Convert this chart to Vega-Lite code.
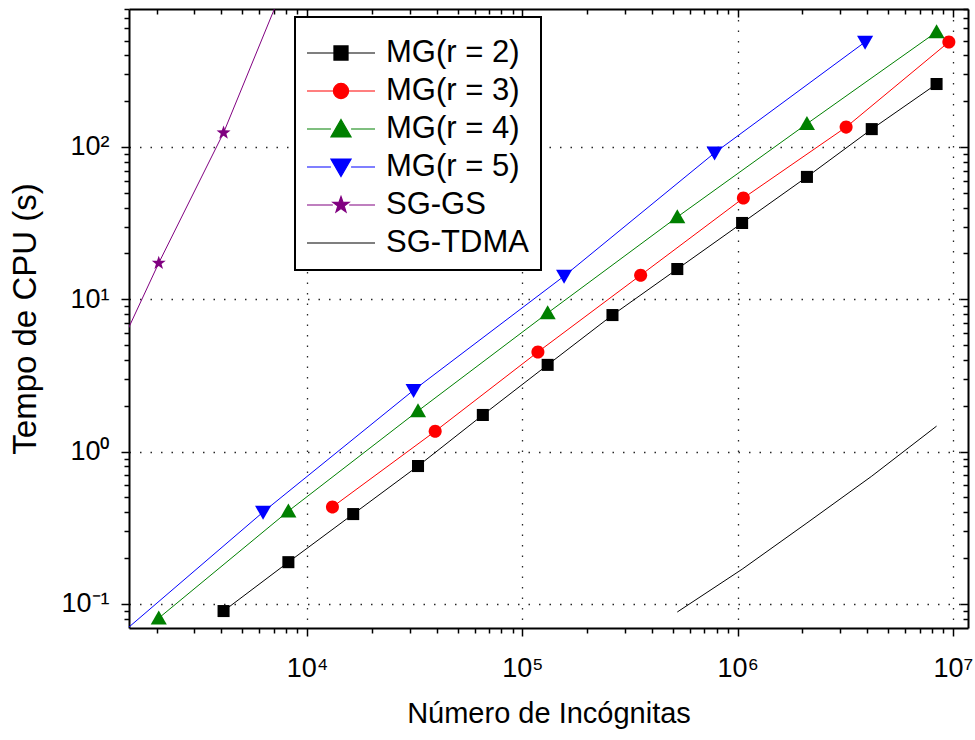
{
  "$schema": "https://vega.github.io/schema/vega-lite/v6.json",
  "width": 839,
  "height": 619,
  "autosize": {"type": "none"},
  "padding": {"left": 129, "top": 9, "right": 7, "bottom": 112},
  "background": "white",
  "config": {
    "view": {"stroke": null},
    "legend": {"strokeWidth": 2},
    "axis": {
      "labelFont": "Liberation Sans",
      "titleFont": "Liberation Sans",
      "labelColor": "black",
      "titleColor": "black",
      "titleFontWeight": "normal",
      "domainColor": "black",
      "domainWidth": 2,
      "tickColor": "black",
      "tickWidth": 1.5,
      "labelFontSize": 27,
      "titleFontSize": 29,
      "labelOverlap": false,
      "labelFlush": false,
      "labelBound": false
    }
  },
  "datasets": {
    "d": [
      {"s": "MG(r = 2)", "x": 4096, "y": 0.0898},
      {"s": "MG(r = 2)", "x": 8192, "y": 0.188},
      {"s": "MG(r = 2)", "x": 16384, "y": 0.389},
      {"s": "MG(r = 2)", "x": 32768, "y": 0.804},
      {"s": "MG(r = 2)", "x": 65536, "y": 1.74},
      {"s": "MG(r = 2)", "x": 131072, "y": 3.71},
      {"s": "MG(r = 2)", "x": 262144, "y": 7.88},
      {"s": "MG(r = 2)", "x": 524288, "y": 15.8},
      {"s": "MG(r = 2)", "x": 1048576, "y": 31.7},
      {"s": "MG(r = 2)", "x": 2097152, "y": 63.6},
      {"s": "MG(r = 2)", "x": 4194304, "y": 131},
      {"s": "MG(r = 2)", "x": 8388608, "y": 259},
      {"s": "MG(r = 3)", "x": 13122, "y": 0.433},
      {"s": "MG(r = 3)", "x": 39366, "y": 1.36},
      {"s": "MG(r = 3)", "x": 118098, "y": 4.51},
      {"s": "MG(r = 3)", "x": 354294, "y": 14.4},
      {"s": "MG(r = 3)", "x": 1062882, "y": 46.2},
      {"s": "MG(r = 3)", "x": 3188646, "y": 135},
      {"s": "MG(r = 3)", "x": 9565938, "y": 489},
      {"s": "MG(r = 4)", "x": 2048, "y": 0.0807},
      {"s": "MG(r = 4)", "x": 8192, "y": 0.407},
      {"s": "MG(r = 4)", "x": 32768, "y": 1.85},
      {"s": "MG(r = 4)", "x": 131072, "y": 8.13},
      {"s": "MG(r = 4)", "x": 524288, "y": 34.7},
      {"s": "MG(r = 4)", "x": 2097152, "y": 142},
      {"s": "MG(r = 4)", "x": 8388608, "y": 569},
      {"s": "MG(r = 5)", "x": 1250, "y": 0.057},
      {"s": "MG(r = 5)", "x": 6250, "y": 0.401},
      {"s": "MG(r = 5)", "x": 31250, "y": 2.53},
      {"s": "MG(r = 5)", "x": 156250, "y": 14.2},
      {"s": "MG(r = 5)", "x": 781250, "y": 91.4},
      {"s": "MG(r = 5)", "x": 3906250, "y": 489},
      {"s": "SG-GS", "x": 1024, "y": 2.1},
      {"s": "SG-GS", "x": 2048, "y": 17.3},
      {"s": "SG-GS", "x": 4096, "y": 124},
      {"s": "SG-GS", "x": 8192, "y": 1350},
      {"s": "SG-TDMA", "x": 524288, "y": 0.0885},
      {"s": "SG-TDMA", "x": 1048576, "y": 0.169},
      {"s": "SG-TDMA", "x": 2097152, "y": 0.34},
      {"s": "SG-TDMA", "x": 4194304, "y": 0.69},
      {"s": "SG-TDMA", "x": 8388608, "y": 1.47}
    ]
  },
  "data": {"name": "d"},
  "layer": [
    {
      "mark": {"type": "line", "clip": true, "strokeWidth": 1},
      "encoding": {
        "x": {
          "field": "x", "type": "quantitative",
          "scale": {"type": "log", "domain": [1490, 11740000], "nice": false, "zero": false},
          "axis": {
            "orient": "bottom",
            "title": "Número de Incógnitas",
            "values": [2000, 3000, 4000, 5000, 6000, 7000, 8000, 9000, 10000, 20000, 30000, 40000, 50000, 60000, 70000, 80000, 90000, 100000, 200000, 300000, 400000, 500000, 600000, 700000, 800000, 900000, 1000000, 2000000, 3000000, 4000000, 5000000, 6000000, 7000000, 8000000, 9000000, 10000000],
            "labelExpr": "datum.value == 10000 ? '10⁴' : datum.value == 100000 ? '10⁵' : datum.value == 1000000 ? '10⁶' : datum.value == 10000000 ? '10⁷' : ''",
            "tickSize": {"condition": {"test": "indexof([10000, 100000, 1000000, 10000000], datum.value) >= 0", "value": 8}, "value": 5},
            "labelPadding": 19,
            "titlePadding": 18,
            "grid": true,
            "gridColor": "black",
            "gridDash": [1.5, 9],
            "gridWidth": 1.3,
            "gridOpacity": {"condition": {"test": "indexof([10000, 100000, 1000000, 10000000], datum.value) >= 0", "value": 0.85}, "value": 0}
          }
        },
        "y": {
          "field": "y", "type": "quantitative",
          "scale": {"type": "log", "domain": [0.0695, 805], "nice": false, "zero": false},
          "axis": {
            "orient": "left",
            "title": "Tempo de CPU (s)",
            "titleFontSize": 33,
            "values": [0.08, 0.09, 0.1, 0.2, 0.3, 0.4, 0.5, 0.6, 0.7, 0.8, 0.9, 1, 2, 3, 4, 5, 6, 7, 8, 9, 10, 20, 30, 40, 50, 60, 70, 80, 90, 100, 200, 300, 400, 500, 600, 700, 800],
            "labelExpr": "datum.value == 0.1 ? '10⁻¹' : datum.value == 1 ? '10⁰' : datum.value == 10 ? '10¹' : datum.value == 100 ? '10²' : ''",
            "tickSize": {"condition": {"test": "indexof([0.1, 1, 10, 100], datum.value) >= 0", "value": 8}, "value": 5},
            "labelPadding": 12,
            "titlePadding": 18,
            "grid": true,
            "gridColor": "black",
            "gridDash": [1.5, 9],
            "gridWidth": 1.3,
            "gridOpacity": {"condition": {"test": "indexof([0.1, 1, 10, 100], datum.value) >= 0", "value": 0.85}, "value": 0}
          }
        },
        "color": {
          "field": "s", "type": "nominal",
          "scale": {
            "domain": ["MG(r = 2)", "MG(r = 3)", "MG(r = 4)", "MG(r = 5)", "SG-GS", "SG-TDMA"],
            "range": ["#000000", "#ff0000", "#008000", "#0000ff", "#800080", "#000000"]
          },
          "legend": null
        }
      }
    },
    {
      "transform": [{"filter": "datum.s != 'SG-TDMA'"}],
      "mark": {"type": "point", "filled": true, "clip": true, "size": 196, "opacity": 1, "strokeWidth": 0},
      "encoding": {
        "x": {"field": "x", "type": "quantitative", "axis": null},
        "y": {"field": "y", "type": "quantitative", "axis": null},
        "color": {
          "field": "s", "type": "nominal",
          "scale": {
            "domain": ["MG(r = 2)", "MG(r = 3)", "MG(r = 4)", "MG(r = 5)", "SG-GS", "SG-TDMA"],
            "range": ["#000000", "#ff0000", "#008000", "#0000ff", "#800080", "#000000"]
          },
          "legend": null
        },
        "shape": {
          "field": "s", "type": "nominal",
          "scale": {
            "domain": ["MG(r = 2)", "MG(r = 3)", "MG(r = 4)", "MG(r = 5)", "SG-GS"],
            "range": [
              "M-0.86,-0.86H0.86V0.86H-0.86Z",
              "M-0.93,0A0.93,0.93,0,1,0,0.93,0A0.93,0.93,0,1,0,-0.93,0Z",
              "M0,-1.1L1.15,0.9L-1.15,0.9Z",
              "M0,1.1L1.15,-0.9L-1.15,-0.9Z",
              "M0,-1.05L0.247,-0.34L0.999,-0.324L0.399,0.13L0.617,0.849L0,0.42L-0.617,0.849L-0.399,0.13L-0.999,-0.324L-0.247,-0.34Z"
            ]
          },
          "legend": null
        }
      }
    },
    {
      "transform": [{"filter": "datum.x < 0"}],
      "mark": {"type": "point", "filled": true, "strokeWidth": 1.2},
      "encoding": {
        "x": {
          "field": "x", "type": "quantitative",
          "axis": {
            "orient": "bottom", "offset": -619, "title": null, "labels": false, "grid": false,
            "values": [2000, 3000, 4000, 5000, 6000, 7000, 8000, 9000, 10000, 20000, 30000, 40000, 50000, 60000, 70000, 80000, 90000, 100000, 200000, 300000, 400000, 500000, 600000, 700000, 800000, 900000, 1000000, 2000000, 3000000, 4000000, 5000000, 6000000, 7000000, 8000000, 9000000, 10000000],
            "tickSize": {"condition": {"test": "indexof([10000, 100000, 1000000, 10000000], datum.value) >= 0", "value": 8}, "value": 5}
          }
        },
        "y": {
          "field": "y", "type": "quantitative",
          "axis": {
            "orient": "left", "offset": -839, "title": null, "labels": false, "grid": false,
            "values": [0.08, 0.09, 0.1, 0.2, 0.3, 0.4, 0.5, 0.6, 0.7, 0.8, 0.9, 1, 2, 3, 4, 5, 6, 7, 8, 9, 10, 20, 30, 40, 50, 60, 70, 80, 90, 100, 200, 300, 400, 500, 600, 700, 800],
            "tickSize": {"condition": {"test": "indexof([0.1, 1, 10, 100], datum.value) >= 0", "value": 8}, "value": 5}
          }
        },
        "color": {
          "field": "s", "type": "nominal",
          "scale": {
            "domain": ["MG(r = 2)", "MG(r = 3)", "MG(r = 4)", "MG(r = 5)", "SG-GS", "SG-TDMA"],
            "range": ["#000000", "#ff0000", "#008000", "#0000ff", "#800080", "#000000"]
          },
          "legend": {
            "orient": "none", "legendX": 166, "legendY": 8,
            "title": " ", "titleFontSize": 1, "titlePadding": 3,
            "symbolSize": 1444, "symbolStrokeWidth": 1.2, "symbolOffset": 14, "symbolOpacity": 1,
            "labelOffset": 25, "labelFont": "Liberation Sans", "labelFontSize": 31, "labelColor": "black", "labelLimit": 400,
            "rowPadding": 3, "padding": 12, "fillColor": "white", "strokeColor": "black"
          }
        },
        "stroke": {
          "field": "s", "type": "nominal",
          "scale": {
            "domain": ["MG(r = 2)", "MG(r = 3)", "MG(r = 4)", "MG(r = 5)", "SG-GS", "SG-TDMA"],
            "range": ["#000000", "#ff0000", "#008000", "#0000ff", "#800080", "#000000"]
          },
          "legend": {
            "orient": "none", "legendX": 166, "legendY": 8,
            "title": " ", "titleFontSize": 1, "titlePadding": 3,
            "symbolSize": 1444, "symbolStrokeWidth": 1.2, "symbolOffset": 14, "symbolOpacity": 1,
            "labelOffset": 25, "labelFont": "Liberation Sans", "labelFontSize": 31, "labelColor": "black", "labelLimit": 400,
            "rowPadding": 3, "padding": 12, "fillColor": "white", "strokeColor": "black"
          }
        },
        "shape": {
          "field": "s", "type": "nominal",
          "scale": {
            "domain": ["MG(r = 2)", "MG(r = 3)", "MG(r = 4)", "MG(r = 5)", "SG-GS", "SG-TDMA"],
            "range": [
              "M-1.79,0H-0.37M0.37,0H1.79M-0.37,-0.37H0.37V0.37H-0.37Z",
              "M-1.79,0H-0.4M0.4,0H1.79M-0.4,0A0.4,0.4,0,1,0,0.4,0A0.4,0.4,0,1,0,-0.4,0Z",
              "M-1.79,0H-0.53M0.53,0H1.79M0,-0.5L0.53,0.42L-0.53,0.42Z",
              "M-1.79,0H-0.53M0.53,0H1.79M0,0.5L0.53,-0.42L-0.53,-0.42Z",
              "M-1.79,0H-0.43M0.43,0H1.79M0,-0.45L0.106,-0.146L0.428,-0.139L0.171,0.056L0.265,0.364L0,0.18L-0.265,0.364L-0.171,0.056L-0.428,-0.139L-0.106,-0.146Z",
              "M-1.79,0H1.79"
            ]
          },
          "legend": {
            "orient": "none", "legendX": 166, "legendY": 8,
            "title": " ", "titleFontSize": 1, "titlePadding": 3,
            "symbolSize": 1444, "symbolStrokeWidth": 1.2, "symbolOffset": 14, "symbolOpacity": 1,
            "labelOffset": 25, "labelFont": "Liberation Sans", "labelFontSize": 31, "labelColor": "black", "labelLimit": 400,
            "rowPadding": 3, "padding": 12, "fillColor": "white", "strokeColor": "black"
          }
        }
      }
    }
  ],
  "resolve": {
    "scale": {"shape": "independent", "color": "independent", "stroke": "independent"},
    "axis": {"x": "independent", "y": "independent"}
  }
}
